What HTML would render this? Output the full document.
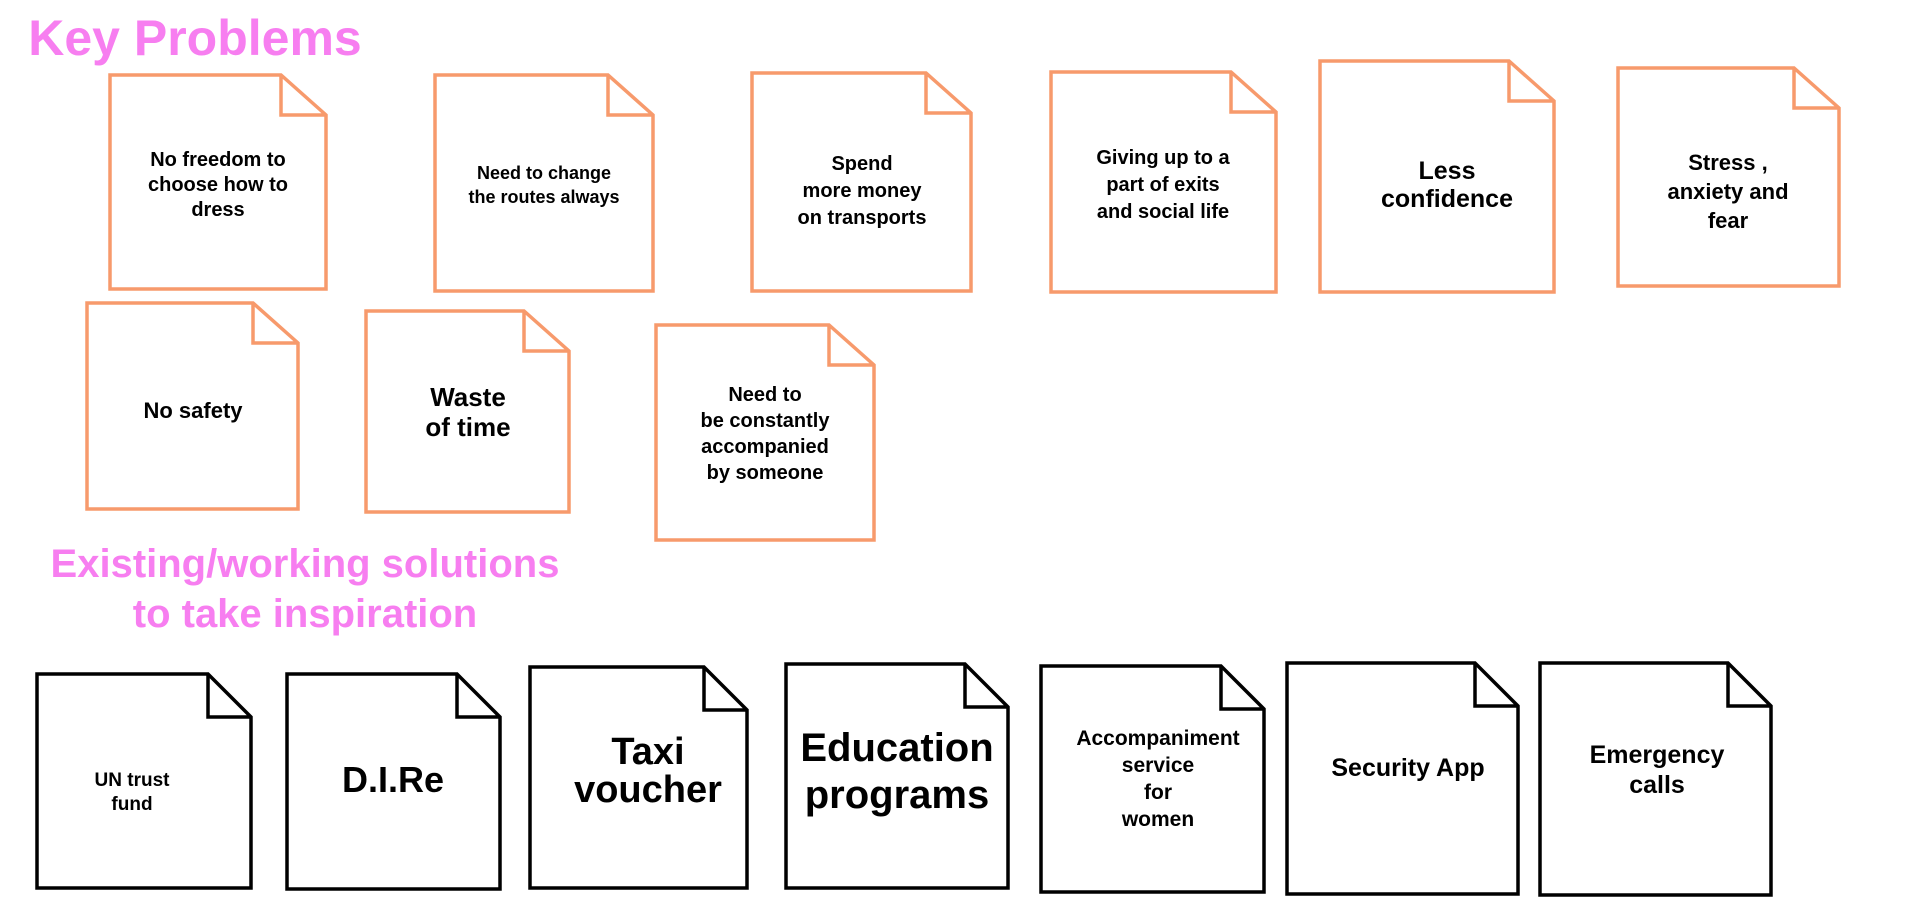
<!DOCTYPE html>
<html><head><meta charset="utf-8"><style>
html,body{margin:0;padding:0;background:#fff;width:1920px;height:910px;overflow:hidden}
svg{display:block}
text{font-family:"Liberation Sans Narrow","Liberation Sans",sans-serif;font-weight:bold;text-anchor:middle}
</style></head><body>
<svg width="1920" height="910" viewBox="0 0 1920 910" xmlns="http://www.w3.org/2000/svg">
<defs>
<g id="x"></g>
</defs>
<text x="195" y="55" font-size="50" fill="#f77ef0" style="font-family:'Liberation Sans',sans-serif">Key Problems</text>
<text x="305" y="577" font-size="40" fill="#f77ef0">Existing/working solutions</text>
<text x="305" y="627" font-size="40" fill="#f77ef0">to take inspiration</text>

<g fill="#fff" stroke="#f79a6c" stroke-width="3.5" stroke-linejoin="miter">
<path d="M110 75 H281 L326 115 V289 H110 Z M281 75 V115 H326"/>
<path d="M435 75 H608 L653 115 V291 H435 Z M608 75 V115 H653"/>
<path d="M752 73 H926 L971 113 V291 H752 Z M926 73 V113 H971"/>
<path d="M1051 72 H1231 L1276 112 V292 H1051 Z M1231 72 V112 H1276"/>
<path d="M1320 61 H1509 L1554 101 V292 H1320 Z M1509 61 V101 H1554"/>
<path d="M1618 68 H1794 L1839 108 V286 H1618 Z M1794 68 V108 H1839"/>
<path d="M87 303 H253 L298 343 V509 H87 Z M253 303 V343 H298"/>
<path d="M366 311 H524 L569 351 V512 H366 Z M524 311 V351 H569"/>
<path d="M656 325 H829 L874 365 V540 H656 Z M829 325 V365 H874"/>
</g>
<g fill="#fff" stroke="#000" stroke-width="3.5">
<path d="M37 674 H208 L251 717 V888 H37 Z M208 674 V717 H251"/>
<path d="M287 674 H457 L500 717 V889 H287 Z M457 674 V717 H500"/>
<path d="M530 667 H704 L747 710 V888 H530 Z M704 667 V710 H747"/>
<path d="M786 664 H965 L1008 707 V888 H786 Z M965 664 V707 H1008"/>
<path d="M1041 666 H1221 L1264 709 V892 H1041 Z M1221 666 V709 H1264"/>
<path d="M1287 663 H1475 L1518 706 V894 H1287 Z M1475 663 V706 H1518"/>
<path d="M1540 663 H1728 L1771 706 V895 H1540 Z M1728 663 V706 H1771"/>
</g>
<g fill="#000">
<text font-size="20"><tspan x="218" y="166">No freedom to</tspan><tspan x="218" y="191">choose how to</tspan><tspan x="218" y="216">dress</tspan></text>
<text font-size="18"><tspan x="544" y="179">Need to change</tspan><tspan x="544" y="203">the routes always</tspan></text>
<text font-size="20"><tspan x="862" y="170">Spend</tspan><tspan x="862" y="197">more money</tspan><tspan x="862" y="224">on transports</tspan></text>
<text font-size="20"><tspan x="1163" y="164">Giving up to a</tspan><tspan x="1163" y="191">part of exits</tspan><tspan x="1163" y="218">and social life</tspan></text>
<text font-size="25"><tspan x="1447" y="179">Less</tspan><tspan x="1447" y="207">confidence</tspan></text>
<text font-size="22"><tspan x="1728" y="170">Stress ,</tspan><tspan x="1728" y="199">anxiety and</tspan><tspan x="1728" y="228">fear</tspan></text>
<text font-size="22" x="193" y="418">No safety</text>
<text font-size="26"><tspan x="468" y="406">Waste</tspan><tspan x="468" y="436">of time</tspan></text>
<text font-size="20"><tspan x="765" y="401">Need to</tspan><tspan x="765" y="427">be constantly</tspan><tspan x="765" y="453">accompanied</tspan><tspan x="765" y="479">by someone</tspan></text>
<text font-size="19"><tspan x="132" y="786">UN trust</tspan><tspan x="132" y="810">fund</tspan></text>
<text font-size="36" x="393" y="792">D.I.Re</text>
<text font-size="38"><tspan x="648" y="764">Taxi</tspan><tspan x="648" y="802">voucher</tspan></text>
<text font-size="40"><tspan x="897" y="761">Education</tspan><tspan x="897" y="808">programs</tspan></text>
<text font-size="21"><tspan x="1158" y="745">Accompaniment</tspan><tspan x="1158" y="772">service</tspan><tspan x="1158" y="799">for</tspan><tspan x="1158" y="826">women</tspan></text>
<text font-size="25" x="1408" y="776">Security App</text>
<text font-size="25"><tspan x="1657" y="763">Emergency</tspan><tspan x="1657" y="793">calls</tspan></text>
</g>
</svg>
</body></html>
